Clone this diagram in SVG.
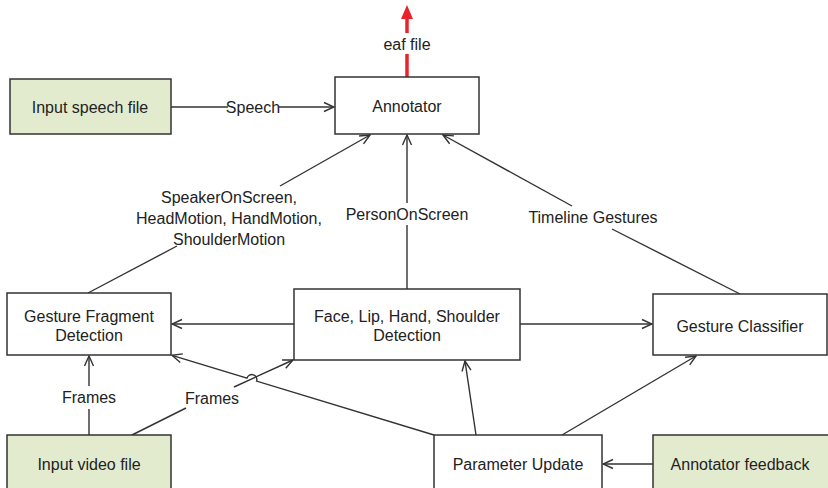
<svg xmlns="http://www.w3.org/2000/svg" width="828" height="488" viewBox="0 0 828 488">
<style>
.box{fill:#ffffff;stroke:#333333;stroke-width:1.5}
.in{fill:#e3ebcf;stroke:#333333;stroke-width:1.5}
.t{font-family:"Liberation Sans",Arial,sans-serif;font-size:16px;fill:#222222;text-anchor:middle;dominant-baseline:central}
.c{fill:none;stroke:#333333;stroke-width:1.4}
</style>
<defs>
<marker id="a" markerUnits="userSpaceOnUse" markerWidth="12" markerHeight="12" viewBox="0 0 12 12" refX="11" refY="6" orient="auto">
<path d="M1,1.5 L11,6 L1,10.5" fill="none" stroke="#333333" stroke-width="1.4"/>
</marker>
</defs>
<g id="connectors">
<line class="c" x1="171" y1="107" x2="228" y2="107"/>
<line class="c" x1="279" y1="107" x2="334" y2="107" marker-end="url(#a)"/>
<text class="t" x="253" y="107">Speech</text>
<line x1="407" y1="77" x2="407" y2="54" stroke="#e8242a" stroke-width="3.5"/>
<line x1="407" y1="33" x2="407" y2="18" stroke="#e8242a" stroke-width="3.5"/>
<polygon points="407,5 401,19 413,19" fill="#e8242a"/>
<text class="t" x="407" y="44">eaf file</text>
<line class="c" x1="88" y1="293" x2="177" y2="246"/>
<line class="c" x1="280" y1="186" x2="370" y2="135" marker-end="url(#a)"/>
<text class="t" x="229" y="197">SpeakerOnScreen,</text>
<text class="t" x="229" y="218">HeadMotion, HandMotion,</text>
<text class="t" x="229" y="239">ShoulderMotion</text>
<line class="c" x1="407" y1="289" x2="407" y2="225"/>
<line class="c" x1="407" y1="203" x2="407" y2="135" marker-end="url(#a)"/>
<text class="t" x="407" y="214">PersonOnScreen</text>
<line class="c" x1="740" y1="294" x2="612" y2="229"/>
<line class="c" x1="572" y1="206" x2="443" y2="135" marker-end="url(#a)"/>
<text class="t" x="593" y="217">Timeline Gestures</text>
<line class="c" x1="294" y1="324" x2="172" y2="324" marker-end="url(#a)"/>
<line class="c" x1="520" y1="324" x2="652" y2="324" marker-end="url(#a)"/>
<line class="c" x1="89" y1="435" x2="89" y2="409"/>
<line class="c" x1="89" y1="386" x2="89" y2="356" marker-end="url(#a)"/>
<text class="t" x="89" y="397">Frames</text>
<line class="c" x1="132" y1="435" x2="186" y2="408"/>
<line class="c" x1="234" y1="387" x2="293" y2="360" marker-end="url(#a)"/>
<text class="t" x="212" y="398">Frames</text>
<path class="c" d="M434,435 L256.6,381.1 A5,5 0 0 0 247,378.1 L172,355.3" marker-end="url(#a)"/>
<line class="c" x1="476" y1="435" x2="465" y2="361" marker-end="url(#a)"/>
<line class="c" x1="562" y1="435" x2="696" y2="356" marker-end="url(#a)"/>
<line class="c" x1="653" y1="464" x2="603" y2="464" marker-end="url(#a)"/>
</g>
<g id="input-speech"><rect class="in" x="10" y="79" width="161" height="55"/><text class="t" x="90" y="107">Input speech file</text></g>
<g id="annotator"><rect class="box" x="335" y="77" width="144" height="57"/><text class="t" x="407" y="106">Annotator</text></g>
<g id="gesture-fragment"><rect class="box" x="7" y="293" width="164" height="62"/><text class="t" x="89" y="316">Gesture Fragment</text><text class="t" x="89" y="335">Detection</text></g>
<g id="detection"><rect class="box" x="294" y="289" width="226" height="71"/><text class="t" x="407" y="316">Face, Lip, Hand, Shoulder</text><text class="t" x="407" y="335">Detection</text></g>
<g id="gesture-classifier"><rect class="box" x="653" y="294" width="174" height="61"/><text class="t" x="740" y="326">Gesture Classifier</text></g>
<g id="input-video"><rect class="in" x="7" y="435" width="164" height="70"/><text class="t" x="89" y="464">Input video file</text></g>
<g id="parameter-update"><rect class="box" x="434" y="435" width="168" height="70"/><text class="t" x="518" y="464">Parameter Update</text></g>
<g id="annotator-feedback"><rect class="in" x="653" y="435" width="180" height="70"/><text class="t" x="740" y="464">Annotator feedback</text></g>
</svg>
